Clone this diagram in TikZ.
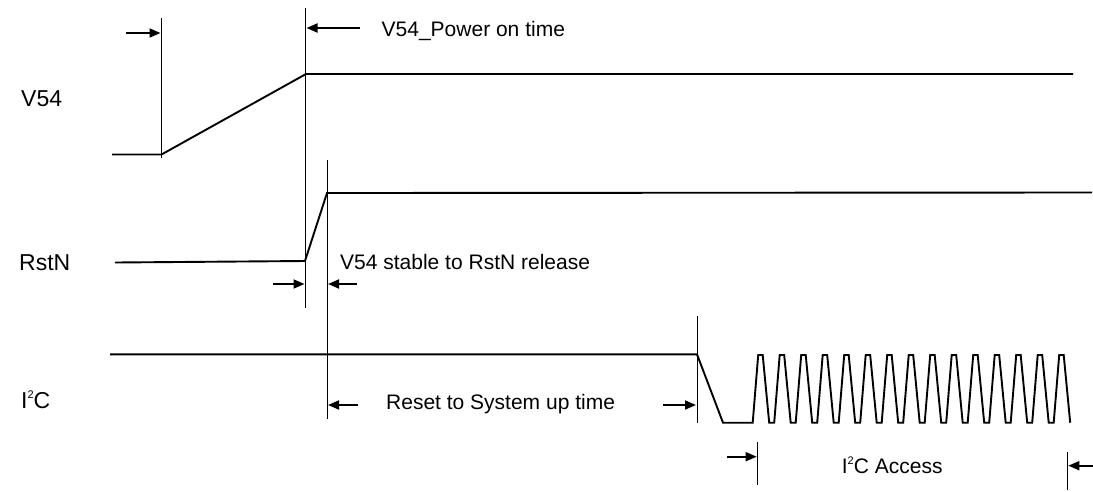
\documentclass[tikz,border=0pt]{standalone}
\usepackage{fontspec}
\setmainfont{Liberation Sans}
\usetikzlibrary{arrows.meta}
\newcommand{\supTwo}{\raisebox{0.42em}{\fontsize{11}{11}\selectfont 2}}
\begin{document}
\begin{tikzpicture}[x=1pt,y=-1pt,
  wave/.style={line width=1.9pt, line join=miter},
  marker/.style={line width=1pt},
  dimarrow/.style={line width=1.8pt, -{Triangle[length=11pt,width=9pt]}},
  lbl/.style={font=\fontsize{21}{25}\selectfont, inner sep=0pt, anchor=base west},
  siglbl/.style={lbl, font=\fontsize{23}{27}\selectfont},
]
\useasboundingbox (0,0) rectangle (1093,491);
\fill[white] (0,0) rectangle (1093,491);

% signal labels
\node[siglbl] (lV) at (21,106) {V54};
\node[siglbl] (lR) at (19,270) {RstN};
\node[siglbl] (lI) at (21,408) {I\supTwo C};

% key coordinates
\coordinate (v0) at (112,154.5);
\coordinate (v1) at (161.5,154.5);
\coordinate (v2) at (306,74);
\coordinate (v3) at (1073,74);
\coordinate (r0) at (115,262.5);
\coordinate (r1) at (305,261);
\coordinate (r2) at (327,193);
\coordinate (r3) at (1092,192.5);
\coordinate (i0) at (110,354.3);
\coordinate (i1) at (697,354.3);
\coordinate (i2) at (723,422.7);
\coordinate (i3) at (752.7,422.7);

% waveforms
\draw[wave] (v0) -- (v1) -- (v2) -- (v3);
\draw[wave] (r0) -- (r1) -- (r2) -- (r3);
\draw[wave] (i0) -- (i1) -- (i2) -- (i3)
  \foreach \k in {0,...,14} {
    -- ({752.7+21.5*\k},422.7)
    -- ({752.7+21.5*\k+5.5},355)
    -- ({752.7+21.5*\k+10},355)
    -- ({752.7+21.5*\k+16.5},422.7)
  };

% vertical markers
\coordinate (m1t) at (161.5,18);   \coordinate (m1b) at (161.5,158);
\coordinate (m2t) at (305.5,8);    \coordinate (m2b) at (305.5,308);
\coordinate (m3t) at (327,160);    \coordinate (m3b) at (327,419);
\coordinate (m4t) at (697,316);    \coordinate (m4b) at (697,423);
\coordinate (m5t) at (757.7,442);  \coordinate (m5b) at (757.7,485);
\coordinate (m6t) at (1067.3,452); \coordinate (m6b) at (1067.3,490);
\foreach \m in {1,...,6} { \draw[marker] (m\m t) -- (m\m b); }

% dimension arrows
\coordinate (a1s) at (126,33);    \coordinate (a1e) at (160.5,33);
\coordinate (a2s) at (360,28);    \coordinate (a2e) at (306.5,28);
\coordinate (a3s) at (273,284);   \coordinate (a3e) at (304.5,284);
\coordinate (a4s) at (357,284);   \coordinate (a4e) at (328,284);
\coordinate (a5s) at (358,405);   \coordinate (a5e) at (328,405);
\coordinate (a6s) at (663,405);   \coordinate (a6e) at (696,405);
\coordinate (a7s) at (727,456.7); \coordinate (a7e) at (756.7,456.7);
\coordinate (a8s) at (1093,465.7);\coordinate (a8e) at (1068.3,465.7);
\foreach \a in {1,...,8} { \draw[dimarrow] (a\a s) -- (a\a e); }

% annotation texts
\node[lbl] (tPow) at (381.5,36.7) {V54\_Power on time};
\node[lbl] (tSta) at (340,269) {V54 stable to RstN release};
\node[lbl] (tRes) at (386,409.3) {Reset to System up time};
\node[lbl] (tAcc) at (841.7,473.3) {I\supTwo C Access};
\end{tikzpicture}
\end{document}
